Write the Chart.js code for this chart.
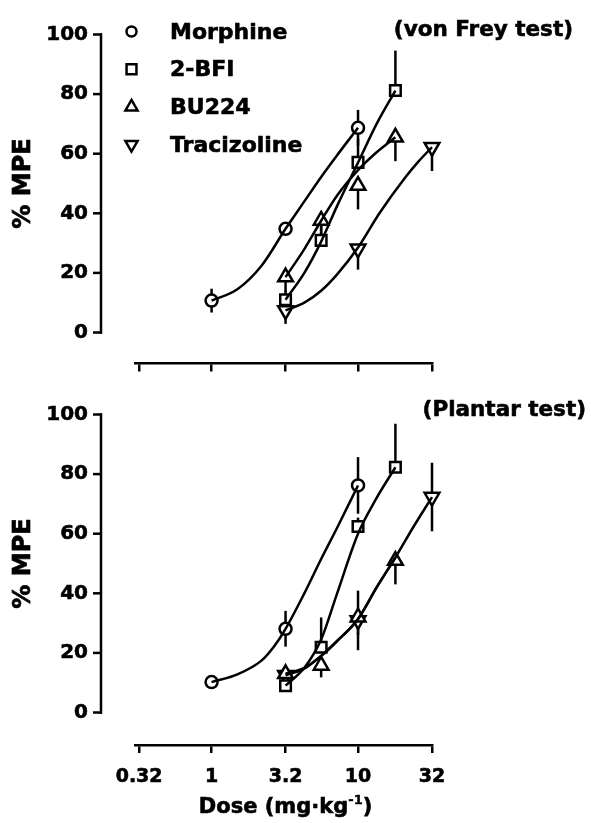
<!DOCTYPE html>
<html>
<head>
<meta charset="utf-8">
<title>%MPE dose-response</title>
<script src="https://cdn.jsdelivr.net/npm/chart.js@4.4.1/dist/chart.umd.min.js"></script>
<style>
  html, body { margin: 0; padding: 0; background: #fff; }
  #wrap { position: relative; width: 591px; height: 823px; }
  canvas { position: absolute; left: 0; }
  #vonFrey { top: 0; }
  #plantar { top: 380px; }
</style>
</head>
<body>
<div id="wrap">
  <canvas id="vonFrey" width="591" height="380"></canvas>
  <canvas id="plantar" width="591" height="443"></canvas>
</div>
<script>
// ---- data ----
const xTickValues = [0.32, 1, 3.2, 10, 32];
const xTickLabels = ['0.32', '1', '3.2', '10', '32'];
const yTickValues = [0, 20, 40, 60, 80, 100];

const compounds = ['Morphine', '2-BFI', 'BU224', 'Tracizoline'];

// doses tested (mg/kg)
const morphineDoses = [1, 3.2, 10];
const bfiDoses = [3.2, 5.6, 10, 18];
const bu224Doses = [3.2, 5.6, 10, 18];
const traciDoses = [3.2, 10, 32];

// von Frey test: mean %MPE and SEM
const vfMorphine = [10.7, 34.8, 68.7];
const vfMorphineSem = [4, 2, 6];
const vfBfi = [11, 30.9, 57.1, 81.2];
const vfBfiSem = [3, 5, 8, 13.4];
const vfBu224 = [18.6, 37.6, 49.3, 65.5];
const vfBu224Sem = [5, 6, 8, 8];
const vfTraci = [7.4, 28.1, 62.2];
const vfTraciSem = [4.5, 7, 8];

// Plantar test: mean %MPE and SEM
const plMorphine = [10.2, 28.1, 76.2];
const plMorphineSem = [1.5, 6, 9.5];
const plBfi = [9, 21.9, 62.4, 82.3];
const plBfiSem = [2, 10, 3, 14.6];
const plBu224 = [13, 15.8, 32, 51];
const plBu224Sem = [3, 4, 6, 8];
const plTraci = [12.5, 30.9, 72.3];
const plTraciSem = [3, 10, 11.5];

// fitted dose-response curves
const vfMorphineFitX = [1, 1.5, 2.2, 3.2, 4.3, 5.6, 7.2, 10];
const vfMorphineFitY = [10.7, 14.5, 22.5, 34.8, 44, 52.2, 59.5, 68.7];
const vfBfiFitX = [3.2, 4.3, 5.6, 7.2, 10, 13.4, 18];
const vfBfiFitY = [11, 20, 30.5, 42.5, 57, 70, 81.2];
const vfBu224FitX = [3.2, 4.3, 5.6, 7.2, 10, 13.4, 18];
const vfBu224FitY = [18.6, 28, 37.5, 46, 54.5, 60.5, 65.5];
const vfTraciFitX = [3.2, 4.3, 5.6, 7.2, 10, 14, 21, 26, 32];
const vfTraciFitY = [7.4, 10, 14, 19.5, 28.5, 40, 52, 57.5, 62.2];

const plMorphineFitX = [1, 1.5, 2.2, 2.7, 3.2, 4.3, 5.6, 7.2, 10];
const plMorphineFitY = [10.2, 12.8, 17.5, 22.5, 28.1, 40, 51.5, 62, 76.2];
const plBfiFitX = [3.2, 4.3, 5.6, 7.2, 10, 13.4, 18];
const plBfiFitY = [9, 15, 24.5, 40, 60, 72, 82.3];
const plBu224FitX = [3.2, 4.3, 5.6, 7.2, 10, 13.4, 18];
const plBu224FitY = [13, 15, 19, 24, 31.4, 42, 52];
const plTraciFitX = [3.2, 4.3, 5.6, 7.2, 10, 13.4, 18, 23.7, 32];
const plTraciFitY = [12.5, 14.7, 19, 24, 31.4, 42, 52, 62, 72.3];

// ---- styling ----
const FONT = "'DejaVu Sans', sans-serif";
const INK = '#000';
const markers = [
  { style: 'circle', radius: 6, rotation: 0, legendRadius: 5 },
  { style: 'rect', radius: 7.5, rotation: 0, legendRadius: 7 },
  { style: 'triangle', radius: 8.5, rotation: 0, legendRadius: 7 },
  { style: 'triangle', radius: 8.5, rotation: 180, legendRadius: 7 }
];

// heavy text: fill plus a thin stroke, like the original's fat bold face
function boldText(ctx, text, x, y) {
  ctx.fillText(text, x, y);
  ctx.strokeText(text, x, y);
}

// error bars: vertical only, no caps
const errorBars = {
  id: 'errorBars',
  beforeDatasetsDraw(chart) {
    const { ctx, scales: { x, y } } = chart;
    ctx.save();
    ctx.strokeStyle = INK;
    ctx.lineWidth = 2.5;
    chart.data.datasets.forEach(ds => {
      if (!ds.errors) return;
      ds.data.forEach((p, i) => {
        const e = ds.errors[i];
        const hi = ds.errSide === 'down' ? p.y : p.y + e;
        const lo = ds.errSide === 'up' ? p.y : p.y - e;
        const px = x.getPixelForValue(p.x);
        ctx.beginPath();
        ctx.moveTo(px, y.getPixelForValue(hi));
        ctx.lineTo(px, y.getPixelForValue(lo));
        ctx.stroke();
      });
    });
    ctx.restore();
  }
};

// Prism-style detached y axis, titles, panel label and legend
function panelDecor(cfg) {
  return {
    id: 'panelDecor',
    afterDraw(chart) {
      const { ctx, chartArea, scales: { x, y } } = chart;
      const axisX = chartArea.left - 34;
      const y0 = y.getPixelForValue(0);
      const y100 = y.getPixelForValue(100);
      ctx.save();
      ctx.strokeStyle = INK;
      ctx.fillStyle = INK;
      ctx.lineWidth = 2.5;
      ctx.beginPath();
      ctx.moveTo(axisX, y0 + 1.25);
      ctx.lineTo(axisX, y100 - 1.25);
      ctx.stroke();
      yTickValues.forEach(v => {
        const py = y.getPixelForValue(v);
        ctx.beginPath();
        ctx.moveTo(axisX - 8, py);
        ctx.lineTo(axisX + 1, py);
        ctx.stroke();
      });

      ctx.lineWidth = 0.6;
      ctx.font = `bold 21.5px ${FONT}`;
      ctx.textAlign = 'right';
      ctx.textBaseline = 'alphabetic';
      boldText(ctx, cfg.label, cfg.labelRight, 35.5);

      if (cfg.legend) {
        ctx.font = `bold 22px ${FONT}`;
        ctx.textAlign = 'left';
        compounds.forEach((name, i) => {
          const base = 38.5 + i * 37.7;
          ctx.fillStyle = INK;
          ctx.lineWidth = 0.6;
          boldText(ctx, name, 170, base);
          ctx.fillStyle = '#fff';
          ctx.lineWidth = 2.5;
          Chart.helpers.drawPoint(ctx, {
            pointStyle: markers[i].style,
            radius: markers[i].legendRadius,
            rotation: markers[i].rotation,
            borderWidth: 2.5
          }, 131.5, base - 7);
        });
        ctx.fillStyle = INK;
      }

      if (cfg.xTitle) {
        // Dose (mg·kg-1) with a raised "-1"
        const main = 'Dose (mg·kg';
        const sup = '-1';
        const close = ')';
        const big = `bold 21px ${FONT}`;
        const small = `bold 13px ${FONT}`;
        ctx.textAlign = 'left';
        ctx.lineWidth = 0.6;
        ctx.font = big;
        const wMain = ctx.measureText(main).width;
        const wClose = ctx.measureText(close).width;
        ctx.font = small;
        const wSup = ctx.measureText(sup).width;
        const cx = (x.getPixelForValue(xTickValues[0]) + x.getPixelForValue(xTickValues[xTickValues.length - 1])) / 2;
        let tx = cx - (wMain + wSup + wClose) / 2;
        const base = chart.height - 10;
        ctx.font = big;
        boldText(ctx, main, tx, base);
        tx += wMain;
        ctx.font = small;
        ctx.lineWidth = 0.4;
        boldText(ctx, sup, tx, base - 9);
        tx += wSup;
        ctx.font = big;
        ctx.lineWidth = 0.6;
        boldText(ctx, close, tx, base);
      }

      ctx.font = `bold 24px ${FONT}`;
      ctx.textAlign = 'center';
      ctx.textBaseline = 'middle';
      ctx.lineWidth = 0.7;
      ctx.translate(23.5, (y0 + y100) / 2);
      ctx.rotate(-Math.PI / 2);
      boldText(ctx, '% MPE', 0, 0);
      ctx.restore();
    }
  };
}

function makePanel(canvasId, series, opts) {
  const datasets = [];
  series.forEach((s, k) => {
    datasets.push({
      label: compounds[k] + ' fit',
      data: s.fitX.map((d, i) => ({ x: d, y: s.fitY[i] })),
      showLine: true,
      borderColor: INK,
      borderWidth: 2.5,
      pointRadius: 0,
      pointHoverRadius: 0,
      cubicInterpolationMode: 'monotone',
      clip: false,
      order: 0
    });
    datasets.push({
      label: compounds[k],
      data: s.doses.map((d, i) => ({ x: d, y: s.mean[i] })),
      errors: s.sem,
      errSide: s.side,
      showLine: false,
      pointStyle: markers[k].style,
      pointRotation: markers[k].rotation,
      pointRadius: markers[k].radius,
      pointHoverRadius: markers[k].radius,
      pointBorderWidth: 2.5,
      pointBorderColor: INK,
      pointBackgroundColor: '#fff',
      clip: false,
      order: 1
    });
  });

  return new Chart(document.getElementById(canvasId), {
    type: 'scatter',
    data: { datasets },
    options: {
      responsive: false,
      animation: false,
      events: [],
      layout: { padding: { top: 34.5, right: 159, left: 0, bottom: 0 } },
      plugins: {
        legend: { display: false },
        tooltip: { enabled: false }
      },
      scales: {
        x: {
          type: 'logarithmic',
          min: 0.32,
          max: 32,
          afterBuildTicks: scale => {
            scale.ticks = xTickValues.map(v => ({ value: v }));
          },
          afterFit: scale => {
            scale.height = opts.xHeight;
            scale.paddingLeft = 0;
            scale.paddingRight = 0;
          },
          border: { color: INK, width: 2.5 },
          grid: {
            display: true,
            drawOnChartArea: false,
            drawTicks: true,
            tickLength: 8,
            color: INK,
            lineWidth: 2.5
          },
          ticks: {
            display: opts.showXLabels,
            color: INK,
            font: { family: FONT, size: 19, weight: 'bold' },
            textStrokeColor: INK,
            textStrokeWidth: 0.6,
            padding: 13,
            maxRotation: 0,
            autoSkip: false,
            callback: (value, index) => xTickLabels[index]
          }
        },
        y: {
          min: opts.yMin,
          max: 100,
          afterBuildTicks: scale => {
            scale.ticks = yTickValues.map(v => ({ value: v }));
          },
          afterFit: scale => {
            scale.width = 135;
            scale.paddingTop = 0;
            scale.paddingBottom = 0;
          },
          border: { display: false },
          grid: { display: false, drawTicks: false },
          ticks: {
            color: INK,
            font: { family: FONT, size: 20, weight: 'bold' },
            textStrokeColor: INK,
            textStrokeWidth: 0.6,
            padding: 47,
            callback: value => value
          }
        }
      }
    },
    plugins: [errorBars, panelDecor(opts)]
  });
}

makePanel('vonFrey', [
  { doses: morphineDoses, mean: vfMorphine, sem: vfMorphineSem, side: 'both', fitX: vfMorphineFitX, fitY: vfMorphineFitY },
  { doses: bfiDoses, mean: vfBfi, sem: vfBfiSem, side: 'up', fitX: vfBfiFitX, fitY: vfBfiFitY },
  { doses: bu224Doses, mean: vfBu224, sem: vfBu224Sem, side: 'down', fitX: vfBu224FitX, fitY: vfBu224FitY },
  { doses: traciDoses, mean: vfTraci, sem: vfTraciSem, side: 'down', fitX: vfTraciFitX, fitY: vfTraciFitY }
], { xHeight: 16.5, yMin: -10.4, showXLabels: false, xTitle: false, label: '(von Frey test)', labelRight: 573, legend: true });

makePanel('plantar', [
  { doses: morphineDoses, mean: plMorphine, sem: plMorphineSem, side: 'both', fitX: plMorphineFitX, fitY: plMorphineFitY },
  { doses: bfiDoses, mean: plBfi, sem: plBfiSem, side: 'up', fitX: plBfiFitX, fitY: plBfiFitY },
  { doses: bu224Doses, mean: plBu224, sem: plBu224Sem, side: 'down', fitX: plBu224FitX, fitY: plBu224FitY },
  { doses: traciDoses, mean: plTraci, sem: plTraciSem, side: 'both', fitX: plTraciFitX, fitY: plTraciFitY }
], { xHeight: 78, yMin: -10.9, showXLabels: true, xTitle: true, label: '(Plantar test)', labelRight: 586, legend: false });
</script>
</body>
</html>
